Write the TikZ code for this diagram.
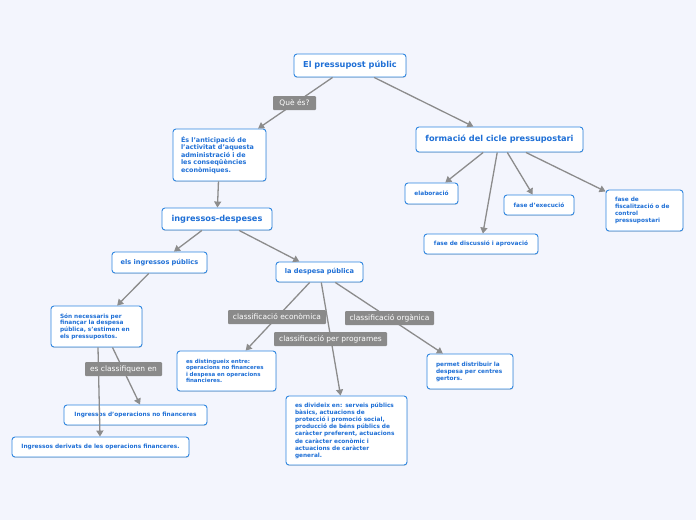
\documentclass[tikz,border=0pt]{standalone}
\usepackage{fontspec}
\setmainfont{DejaVu Sans}
\usetikzlibrary{arrows.meta,shadows}
\definecolor{bgc}{HTML}{F3F5FD}
\definecolor{nodeblue}{HTML}{2F86E0}
\definecolor{textblue}{HTML}{1E6FD6}
\definecolor{lblgray}{HTML}{8A8A8A}
\definecolor{linegray}{HTML}{8C8C8C}
\newcommand{\fs}[2]{\fontsize{#1}{#2}\selectfont}
\tikzset{
  box/.style={draw=nodeblue, line width=0.9pt, fill=white, rounded corners=3pt,
    text=textblue, inner sep=0pt,
    drop shadow={shadow xshift=0.3pt, shadow yshift=-0.9pt, opacity=0.3, fill=black!45}},
  tbox/.style={box, align=left, execute at begin node={\hyphenpenalty=10000\exhyphenpenalty=10000}},
  lbl/.style={fill=lblgray, text=white, inner sep=0pt, rounded corners=1pt, font=\fs{7.5}{9}},
  conn/.style={draw=linegray, line width=1.3pt, -{Triangle[length=6pt,width=7pt]}}
}
\begin{document}
\begin{tikzpicture}[x=1pt,y=-1pt]
\fill[bgc] (0,0) rectangle (696,520);
\useasboundingbox (0,0) rectangle (696,520);

% nodes
\node[box, minimum width=112pt, minimum height=23pt, font=\bfseries\fs{8.2}{10}] (root) at (350,65.5) {El pressupost públic};
\node[tbox, minimum height=52pt, inner xsep=8pt, text width=77pt, font=\bfseries\fs{6.4}{7.4}] (antic) at (219.5,155) {És l'anticipació de\\l'activitat d'aquesta\\administració i de\\les conseqüències\\econòmiques.};
\node[box, minimum width=167pt, minimum height=25pt, font=\bfseries\fs{8.2}{10}] (form) at (499.5,139.5) {formació del cicle pressupostari};
\node[box, minimum width=53pt, minimum height=21pt, font=\bfseries\fs{5.8}{7}] (elab) at (431.5,193.5) {elaboració};
\node[box, minimum width=114pt, minimum height=20pt, font=\bfseries\fs{5.8}{7}] (disc) at (481,244) {fase de discussió i aprovació};
\node[box, minimum width=70pt, minimum height=20pt, font=\bfseries\fs{5.8}{7}] (exec) at (539,205) {fase d'execució};
\node[tbox, minimum height=41pt, inner xsep=9pt, text width=59pt, font=\bfseries\fs{5.8}{7}] (fisc) at (644.5,210.5) {fase de\\fiscalització o de\\control\\pressupostari};
\node[box, minimum width=110pt, minimum height=22pt, font=\bfseries\fs{8.2}{10}] (ingdes) at (217,219) {ingressos-despeses};
\node[box, minimum width=95pt, minimum height=21pt, font=\bfseries\fs{6.6}{8}] (ingpub) at (159.5,262.5) {els ingressos públics};
\node[box, minimum width=87pt, minimum height=20pt, font=\bfseries\fs{6.6}{8}] (desp) at (319.5,272) {la despesa pública};
\node[tbox, minimum height=41pt, inner xsep=9pt, text width=73pt, font=\bfseries\fs{5.8}{6.8}] (son) at (96.5,326.5) {Són necessaris per\\finançar la despesa\\pública, s'estimen en\\els pressupostos.};
\node[box, minimum width=143pt, minimum height=20pt, font=\bfseries\fs{5.8}{7}] (inof) at (135.5,415) {Ingressos d'operacions no financeres};
\node[box, minimum width=177pt, minimum height=20pt, font=\bfseries\fs{5.8}{7}] (ider) at (100.5,447) {Ingressos derivats de les operacions financeres.};
\node[tbox, minimum height=40pt, inner xsep=9pt, text width=81pt, font=\bfseries\fs{5.5}{6.6}] (dist) at (226.5,371) {es distingueix entre:\\operacions no financeres\\i despesa en operacions\\financieres.};
\node[tbox, minimum height=69pt, inner xsep=9pt, text width=103pt, font=\bfseries\fs{5.8}{7.2}] (divi) at (346.5,430.5) {es divideix en: serveis públics\\bàsics, actuacions de\\protecció i promoció social,\\producció de béns públics de\\caràcter preferent, actuacions\\de caràcter econòmic i\\actuacions de caràcter\\general.};
\node[tbox, minimum height=35pt, inner xsep=9pt, text width=68pt, font=\bfseries\fs{5.8}{7}] (perm) at (470,371.5) {permet distribuir la\\despesa per centres\\gertors.};

% connectors
\draw[conn] (root) -- (antic);
\draw[conn] (root) -- (form);
\draw[conn] (antic) -- (ingdes);
\draw[conn] (ingdes) -- (ingpub);
\draw[conn] (ingdes) -- (desp);
\draw[conn] (ingpub) -- (son);
\draw[conn] ([xshift=16pt]son.south) -- ([xshift=4.5pt]inof.north);
\draw[conn] ([xshift=1.5pt]son.south) -- ([xshift=-0.5pt]ider.north);
\draw[conn] (desp) -- (dist);
\draw[conn] (desp) -- (divi);
\draw[conn] (desp) -- (perm);
\draw[conn] (form) -- (elab);
\draw[conn] (form) -- (disc);
\draw[conn] (form) -- (exec);
\draw[conn] (form) -- (fisc);

% labels
\node[lbl, minimum width=43pt, minimum height=14pt] (q) at (294.5,103) {Què és?};
\node[lbl, minimum width=77pt, minimum height=14pt] (ecl) at (123.5,369) {es classifiquen en};
\node[lbl, minimum width=98pt, minimum height=14pt] (ce) at (277,317) {classificació econòmica};
\node[lbl, minimum width=89pt, minimum height=14pt] (co) at (389.5,318) {classificació orgànica};
\node[lbl, minimum width=113pt, minimum height=14pt] (cp) at (330.5,339) {classificació per programes};
\end{tikzpicture}
\end{document}
